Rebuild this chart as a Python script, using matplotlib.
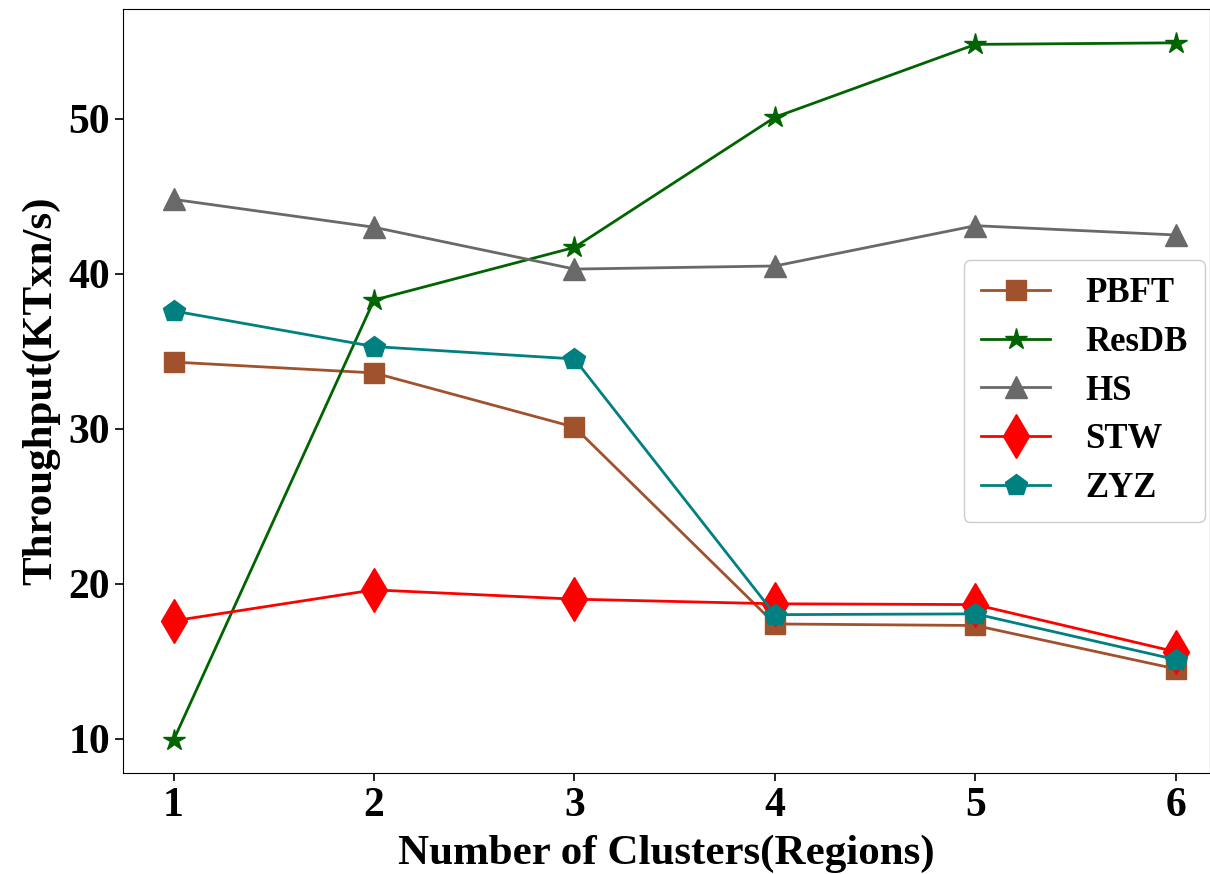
import matplotlib
matplotlib.use("Agg")
import matplotlib.pyplot as plt

# ── DATA ──────────────────────────────────────────────────────────────────────
clusters = [1, 2, 3, 4, 5, 6]

pbft  = [34.3, 33.6, 30.1, 17.4, 17.3, 14.5]
resdb = [9.9, 38.3, 41.7, 50.1, 54.8, 54.9]
hs    = [44.8, 43.0, 40.3, 40.5, 43.1, 42.5]
stw   = [17.6, 19.6, 19.0, 18.7, 18.65, 15.6]
zyz   = [37.6, 35.3, 34.5, 18.0, 18.05, 15.1]

series = [
    ("PBFT",  pbft,  "#A0522D", "s", 15),
    ("ResDB", resdb, "#006400", "*", 16),
    ("HS",    hs,    "#696969", "^", 16),
    ("STW",   stw,   "#FF0000", "d", 22),
    ("ZYZ",   zyz,   "#008080", "p", 16),
]

# ── PLOT ──────────────────────────────────────────────────────────────────────
plt.rcParams["font.family"] = ["Liberation Serif", "DejaVu Serif"]
plt.rcParams["font.weight"] = "bold"

fig, ax = plt.subplots(figsize=(12.1, 8.74), dpi=100)

for name, vals, color, marker, ms in series:
    ax.plot(clusters, vals, color=color, marker=marker, markersize=ms,
            lw=2, label=name)

ax.set_xlim(0.75, 6.17)
ax.set_ylim(7.75, 57.1)
ax.set_xticks(clusters)
ax.set_yticks([10, 20, 30, 40, 50])
ax.tick_params(labelsize=30, width=1.2, length=6)
for lbl in ax.get_xticklabels() + ax.get_yticklabels():
    lbl.set_fontweight("bold")

ax.set_xlabel("Number of Clusters(Regions)", fontsize=31, fontweight="bold",
              labelpad=7)
ax.set_ylabel("Throughput(KTxn/s)", fontsize=31, fontweight="bold",
              labelpad=6)

leg = ax.legend(loc="center right", bbox_to_anchor=(1.0, 0.5), fontsize=25,
                handlelength=2.0, handletextpad=1.0, borderpad=0.5,
                labelspacing=0.45, borderaxespad=0.15, framealpha=1.0)
for t in leg.get_texts():
    t.set_fontweight("bold")

fig.subplots_adjust(left=0.102, right=1.0, top=0.99, bottom=0.115)
plt.savefig("out.png", dpi=100)
